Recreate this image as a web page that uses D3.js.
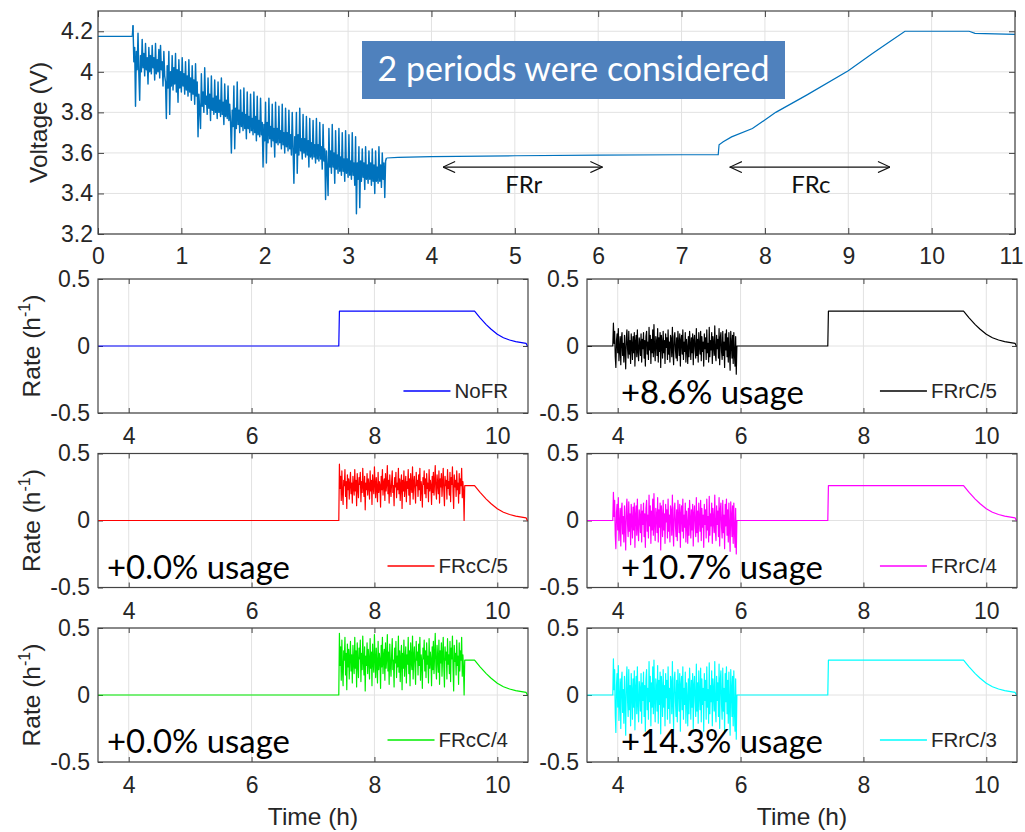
<!DOCTYPE html>
<html>
<head>
<meta charset="utf-8">
<script src="https://cdn.jsdelivr.net/npm/d3@7"></script>
<style>
  body { margin: 0; background: #fff; }
  svg { display: block; }
</style>
</head>
<body>
<svg id="chart" width="1025" height="832"></svg>
<script>
// ---------- Voltage record (top panel) ----------
const restT = [0, 0.41];
const restV = [4.175, 4.175];

// discharge under the usage profile, sampled every 0.01 h from 0.42 h
const dischargeStart = 0.42;
const dischargeStep = 0.01;
const dischargeV = [
  4.23, 4.05, 4.12, 3.83, 4.10, 4.01, 4.19, 3.99, 3.86, 4.08,
  4.00, 4.16, 4.02, 4.09, 3.98, 4.14, 4.01, 4.07, 3.94, 4.12,
  4.00, 4.08, 3.99, 4.13, 4.02, 4.07, 3.96, 4.14, 3.99, 4.06,
  4.00, 4.11, 3.97, 4.13, 4.01, 4.05, 3.93, 4.10, 3.98,
  3.95, 3.77, 4.03, 3.92, 4.10, 3.79, 4.00, 3.93, 4.08, 3.91,
  4.02, 3.94, 4.09, 3.90, 4.01, 3.85, 4.06, 3.92, 4.00, 3.90,
  4.07, 3.93, 3.99, 3.89, 4.05, 3.91, 3.98, 3.88, 4.06, 3.90,
  3.97, 3.86, 4.03, 3.89, 3.96, 3.84, 4.04, 3.88, 3.95,
  3.68, 3.89, 3.81, 3.72, 3.99, 3.83, 3.90, 3.80, 4.02, 3.84,
  3.88, 3.79, 3.97, 3.82, 3.89, 3.76, 3.98, 3.81, 3.87, 3.79,
  3.96, 3.80, 3.88, 3.77, 3.95, 3.80, 3.86, 3.78, 3.97, 3.79,
  3.85, 3.74, 3.94, 3.78, 3.86, 3.77, 3.93, 3.76, 3.84, 3.75,
  3.60, 3.81, 3.73, 3.93, 3.62, 3.82, 3.72, 3.95, 3.74, 3.81,
  3.70, 3.91, 3.73, 3.80, 3.71, 3.92, 3.72, 3.79, 3.67, 3.90,
  3.72, 3.78, 3.70, 3.89, 3.71, 3.77, 3.69, 3.90, 3.70, 3.78,
  3.66, 3.88, 3.69, 3.76, 3.68, 3.87, 3.69, 3.75,
  3.53, 3.74, 3.66, 3.85, 3.55, 3.75, 3.65, 3.87, 3.67, 3.73,
  3.63, 3.84, 3.66, 3.72, 3.58, 3.85, 3.65, 3.72, 3.64, 3.83,
  3.65, 3.71, 3.62, 3.84, 3.64, 3.70, 3.60, 3.82, 3.63, 3.70,
  3.61, 3.81, 3.62, 3.69, 3.59, 3.80, 3.62,
  3.45, 3.68, 3.60, 3.80, 3.50, 3.69, 3.59, 3.82, 3.61, 3.67,
  3.57, 3.79, 3.60, 3.67, 3.58, 3.78, 3.59, 3.66, 3.53, 3.77,
  3.58, 3.65, 3.57, 3.76, 3.58, 3.64, 3.55, 3.77, 3.57, 3.64,
  3.56, 3.75, 3.57, 3.63, 3.52, 3.74, 3.56, 3.62,
  3.37, 3.61, 3.52, 3.39, 3.72, 3.53, 3.61, 3.50, 3.74, 3.53,
  3.60, 3.45, 3.71, 3.52, 3.59, 3.50, 3.72, 3.51, 3.58, 3.49,
  3.70, 3.51, 3.57, 3.46, 3.71, 3.50, 3.57, 3.48, 3.69, 3.49,
  3.56, 3.47, 3.70, 3.49, 3.55, 3.44, 3.68,
  3.30, 3.55, 3.47, 3.63, 3.33, 3.56, 3.46, 3.62, 3.48, 3.55,
  3.42, 3.63, 3.47, 3.54, 3.45, 3.61, 3.47, 3.55, 3.44, 3.62,
  3.46, 3.54, 3.40, 3.61, 3.46, 3.53, 3.45, 3.63, 3.46, 3.54,
  3.43, 3.60, 3.47, 3.55, 3.38, 3.56
];

// rest, frequency-regulation window and constant-current / constant-voltage charge
const tailT = [3.46, 3.6, 4.0, 5.0, 6.0, 7.0, 7.44, 7.45, 7.5, 7.6, 7.85, 8.13, 8.5, 9.0, 9.29, 9.5, 9.68, 10.45, 10.52, 11.0];
const tailV = [3.575, 3.578, 3.582, 3.586, 3.589, 3.591, 3.592, 3.64, 3.655, 3.679, 3.72, 3.80, 3.885, 4.005, 4.09, 4.15, 4.20, 4.20, 4.19, 4.185];

const timeTicksTop = [0, 1, 2, 3, 4, 5, 6, 7, 8, 9, 10, 11];
const voltageTicks = [3.2, 3.4, 3.6, 3.8, 4, 4.2];

// period annotations
const periodNames = ["FRr", "FRc"];
const periodFrom = [4.14, 7.58];
const periodTo = [6.05, 9.5];
const boxTitle = "2 periods were considered";

// ---------- Rate panels ----------
const chargeT = [3.5, 3.92, 7.42, 7.43, 9.47, 9.63, 9.72, 9.82, 9.9, 10.0, 10.1, 10.2, 10.3, 10.42, 10.47, 10.49, 10.5];
const chargeR = [0, 0, 0, 0.26, 0.26, 0.26, 0.21, 0.16, 0.125, 0.088, 0.062, 0.045, 0.033, 0.023, 0.019, 0, 0];

// regulation signals, sampled every 0.01 h
const rateStep = 0.01;
const frrStart = 3.93;
const frcStart = 7.43;

const frrC5 = [
  0.17, 0.02, 0.11, -0.08, -0.16, 0.04, 0.09, -0.05, 0.13, -0.11,
  -0.03, 0.07, -0.14, 0.05, 0.10, -0.07, 0.02, -0.12, 0.08, -0.04,
  -0.17, 0.06, 0.12, -0.02, -0.09, 0.11, -0.06, 0.04, -0.13, 0.09,
  0.01, -0.10, 0.07, -0.05, 0.10, -0.15, 0.03, 0.08, -0.08, 0.12,
  -0.04, -0.11, 0.06, 0.02, -0.07, 0.09, -0.12, 0.05, -0.02, 0.10,
  -0.09, 0.04, -0.15, 0.07, 0.11, -0.06, 0.03, -0.10, 0.14, -0.03,
  0.08, -0.13, 0.05, -0.05, 0.12, -0.08, 0.16, -0.02, -0.11, 0.07,
  0.03, -0.07, 0.13, -0.12, 0.06, -0.04, 0.10, -0.16, 0.08, 0.02,
  -0.09, 0.11, -0.05, 0.04, -0.13, 0.09, -0.01, 0.06, -0.10, 0.12,
  -0.06, 0.03, -0.12, 0.08, 0.05, -0.08, 0.14, -0.04, -0.14, 0.07,
  0.10, -0.03, -0.09, 0.06, -0.11, 0.11, 0.02, -0.07, 0.09, -0.15,
  0.04, 0.08, -0.06, 0.12, -0.10, 0.03, -0.04, 0.10, -0.12, 0.05,
  -0.02, -0.13, 0.07, -0.08, 0.11, 0.01, -0.10, 0.06, -0.05, 0.09,
  -0.14, 0.04, 0.08, -0.03, -0.09, 0.13, -0.07, 0.05, -0.12, 0.10,
  0.00, -0.06, 0.11, -0.11, 0.07, -0.04, 0.03, -0.15, 0.09, -0.02,
  0.06, -0.10, 0.12, -0.05, 0.02, -0.12, 0.14, -0.08, 0.04, -0.03,
  0.10, -0.13, 0.07, 0.01, -0.07, 0.15, -0.06, -0.11, 0.08, -0.02,
  0.05, -0.09, 0.13, -0.14, 0.06, 0.10, -0.04, -0.10, 0.11, -0.07,
  0.03, -0.16, 0.09, -0.03, 0.12, -0.08, 0.06, -0.12, 0.10, -0.05,
  -0.18, 0.11, 0.02, -0.09, 0.08, -0.13, 0.10, -0.06, -0.15, 0.07,
  -0.21, 0.00
];
const frrC4 = [
  0.21, 0.03, 0.15, -0.11, -0.21, 0.06, 0.12, -0.07, 0.17, -0.15,
  -0.04, 0.09, -0.19, 0.07, 0.13, -0.10, 0.03, -0.16, 0.11, -0.05,
  -0.22, 0.08, 0.16, -0.03, -0.12, 0.14, -0.08, 0.05, -0.18, 0.12,
  0.01, -0.13, 0.10, -0.07, 0.13, -0.20, 0.04, 0.11, -0.11, 0.16,
  -0.06, -0.15, 0.08, 0.03, -0.09, 0.12, -0.16, 0.07, -0.03, 0.13,
  -0.12, 0.05, -0.20, 0.09, 0.15, -0.08, 0.04, -0.13, 0.19, -0.04,
  0.11, -0.17, 0.07, -0.07, 0.16, -0.11, 0.20, -0.03, -0.15, 0.09,
  0.04, -0.09, 0.17, -0.16, 0.08, -0.05, 0.13, -0.22, 0.11, 0.03,
  -0.12, 0.15, -0.07, 0.05, -0.17, 0.12, -0.01, 0.08, -0.13, 0.16,
  -0.08, 0.04, -0.16, 0.11, 0.07, -0.11, 0.19, -0.05, -0.19, 0.09,
  0.13, -0.04, -0.12, 0.08, -0.15, 0.15, 0.03, -0.09, 0.12, -0.20,
  0.05, 0.11, -0.08, 0.16, -0.13, 0.04, -0.05, 0.13, -0.16, 0.07,
  -0.03, -0.17, 0.09, -0.11, 0.15, 0.01, -0.13, 0.08, -0.07, 0.12,
  -0.19, 0.05, 0.11, -0.04, -0.12, 0.17, -0.09, 0.07, -0.16, 0.13,
  0.00, -0.08, 0.15, -0.15, 0.09, -0.05, 0.04, -0.20, 0.12, -0.03,
  0.08, -0.13, 0.16, -0.07, 0.03, -0.16, 0.18, -0.11, 0.05, -0.04,
  0.13, -0.17, 0.09, 0.01, -0.09, 0.19, -0.08, -0.15, 0.11, -0.03,
  0.07, -0.12, 0.17, -0.19, 0.08, 0.13, -0.05, -0.13, 0.15, -0.09,
  0.04, -0.21, 0.12, -0.04, 0.16, -0.11, 0.08, -0.16, 0.13, -0.07,
  -0.23, 0.14, 0.03, -0.12, 0.11, -0.17, 0.13, -0.08, -0.20, 0.09,
  -0.25, 0.00
];
const frrC3 = [
  0.27, 0.04, 0.19, -0.14, -0.28, 0.07, 0.16, -0.09, 0.22, -0.19,
  -0.05, 0.12, -0.25, 0.09, 0.17, -0.13, 0.04, -0.21, 0.14, -0.07,
  -0.30, 0.10, 0.21, -0.04, -0.16, 0.19, -0.11, 0.07, -0.23, 0.16,
  0.02, -0.18, 0.12, -0.09, 0.18, -0.26, 0.05, 0.14, -0.14, 0.21,
  -0.07, -0.20, 0.10, 0.04, -0.12, 0.16, -0.21, 0.09, -0.04, 0.17,
  -0.16, 0.07, -0.27, 0.12, 0.19, -0.11, 0.05, -0.18, 0.25, -0.05,
  0.14, -0.23, 0.09, -0.09, 0.21, -0.14, 0.26, -0.04, -0.20, 0.12,
  0.05, -0.12, 0.22, -0.21, 0.11, -0.07, 0.17, -0.29, 0.14, 0.04,
  -0.16, 0.19, -0.09, 0.07, -0.23, 0.16, -0.02, 0.11, -0.18, 0.21,
  -0.10, 0.05, -0.21, 0.14, 0.09, -0.14, 0.25, -0.07, -0.25, 0.12,
  0.17, -0.05, -0.16, 0.11, -0.20, 0.19, 0.04, -0.12, 0.16, -0.27,
  0.07, 0.14, -0.11, 0.21, -0.18, 0.05, -0.07, 0.17, -0.21, 0.09,
  -0.04, -0.23, 0.12, -0.14, 0.20, 0.02, -0.18, 0.11, -0.09, 0.16,
  -0.25, 0.07, 0.14, -0.05, -0.16, 0.23, -0.12, 0.09, -0.21, 0.18,
  0.00, -0.11, 0.20, -0.20, 0.12, -0.07, 0.05, -0.27, 0.16, -0.04,
  0.11, -0.18, 0.21, -0.09, 0.04, -0.21, 0.24, -0.14, 0.07, -0.05,
  0.18, -0.23, 0.12, 0.02, -0.12, 0.25, -0.11, -0.20, 0.14, -0.04,
  0.09, -0.16, 0.23, -0.25, 0.11, 0.18, -0.07, -0.18, 0.20, -0.12,
  0.05, -0.28, 0.16, -0.05, 0.21, -0.14, 0.11, -0.21, 0.17, -0.09,
  -0.30, 0.19, 0.04, -0.16, 0.14, -0.23, 0.18, -0.11, -0.27, 0.12,
  -0.33, 0.00
];
const frcC5 = [
  0.42, 0.24, 0.33, 0.15, 0.37, 0.21, 0.12, 0.30, 0.26, 0.38,
  0.18, 0.29, 0.09, 0.34, 0.23, 0.31, 0.16, 0.27, 0.36, 0.20,
  0.28, 0.13, 0.33, 0.25, 0.19, 0.38, 0.22, 0.30, 0.11, 0.35,
  0.24, 0.17, 0.32, 0.27, 0.36, 0.14, 0.29, 0.21, 0.39, 0.25,
  0.18, 0.33, 0.08, 0.28, 0.23, 0.35, 0.19, 0.31, 0.26, 0.16,
  0.37, 0.22, 0.30, 0.12, 0.34, 0.25, 0.20, 0.40, 0.27, 0.17,
  0.32, 0.24, 0.14, 0.36, 0.21, 0.29, 0.26, 0.10, 0.33, 0.23,
  0.38, 0.19, 0.28, 0.31, 0.15, 0.35, 0.22, 0.27, 0.41, 0.20,
  0.30, 0.13, 0.34, 0.24, 0.18, 0.29, 0.37, 0.21, 0.26, 0.11,
  0.32, 0.25, 0.36, 0.17, 0.28, 0.23, 0.39, 0.20, 0.31, 0.15,
  0.27, 0.34, 0.09, 0.30, 0.22, 0.37, 0.18, 0.26, 0.33, 0.14,
  0.29, 0.24, 0.38, 0.19, 0.31, 0.12, 0.35, 0.25, 0.21, 0.40,
  0.16, 0.28, 0.33, 0.22, 0.13, 0.36, 0.26, 0.30, 0.18, 0.34,
  0.23, 0.39, 0.15, 0.29, 0.25, 0.10, 0.32, 0.27, 0.37, 0.20,
  0.31, 0.17, 0.35, 0.24, 0.28, 0.14, 0.38, 0.22, 0.30, 0.26,
  0.12, 0.33, 0.21, 0.36, 0.19, 0.29, 0.41, 0.23, 0.16, 0.34,
  0.27, 0.20, 0.37, 0.13, 0.31, 0.25, 0.35, 0.18, 0.28, 0.39,
  0.22, 0.11, 0.33, 0.26, 0.30, 0.16, 0.38, 0.24, 0.29, 0.19,
  0.36, 0.14, 0.32, 0.27, 0.40, 0.21, 0.09, 0.34, 0.25, 0.30,
  0.18, 0.37, 0.23, 0.28, 0.13, 0.35, 0.20, 0.31, 0.26, 0.39,
  0.17, 0.29, 0.22, 0.00
];
const frcC4 = [
  0.46, 0.22, 0.36, 0.11, 0.41, 0.19, 0.07, 0.33, 0.26, 0.43,
  0.15, 0.31, 0.04, 0.38, 0.21, 0.34, 0.12, 0.28, 0.40, 0.18,
  0.30, 0.09, 0.37, 0.24, 0.16, 0.43, 0.20, 0.33, 0.06, 0.39,
  0.23, 0.13, 0.35, 0.27, 0.41, 0.10, 0.31, 0.19, 0.44, 0.25,
  0.15, 0.36, 0.03, 0.29, 0.22, 0.39, 0.16, 0.34, 0.26, 0.12,
  0.42, 0.20, 0.32, 0.07, 0.38, 0.24, 0.17, 0.45, 0.27, 0.13,
  0.35, 0.23, 0.09, 0.40, 0.19, 0.31, 0.26, 0.05, 0.37, 0.21,
  0.43, 0.16, 0.29, 0.34, 0.11, 0.39, 0.20, 0.27, 0.45, 0.18,
  0.32, 0.08, 0.38, 0.23, 0.14, 0.30, 0.42, 0.19, 0.26, 0.06,
  0.35, 0.24, 0.40, 0.13, 0.29, 0.21, 0.44, 0.17, 0.33, 0.10,
  0.28, 0.37, 0.04, 0.31, 0.20, 0.41, 0.14, 0.26, 0.36, 0.09,
  0.30, 0.23, 0.43, 0.16, 0.33, 0.07, 0.39, 0.25, 0.19, 0.44,
  0.12, 0.29, 0.36, 0.21, 0.08, 0.40, 0.26, 0.32, 0.15, 0.38,
  0.22, 0.43, 0.11, 0.30, 0.25, 0.05, 0.35, 0.27, 0.41, 0.18,
  0.33, 0.13, 0.39, 0.23, 0.29, 0.09, 0.42, 0.20, 0.32, 0.26,
  0.07, 0.36, 0.19, 0.40, 0.16, 0.30, 0.46, 0.22, 0.12, 0.37,
  0.27, 0.17, 0.41, 0.08, 0.33, 0.24, 0.39, 0.14, 0.29, 0.43,
  0.21, 0.06, 0.36, 0.26, 0.32, 0.12, 0.42, 0.23, 0.30, 0.16,
  0.40, 0.10, 0.35, 0.27, 0.44, 0.19, 0.03, 0.37, 0.25, 0.31,
  0.15, 0.41, 0.22, 0.29, 0.08, 0.39, 0.18, 0.33, 0.26, 0.43,
  0.14, 0.30, 0.20, 0.00
];

const seriesNames = ["NoFR", "FRrC/5", "FRcC/5", "FRrC/4", "FRcC/4", "FRrC/3"];
const seriesColors = ["#0000ff", "#000000", "#ff0000", "#ff00ff", "#00ee00", "#00ffff"];
const seriesNoiseStart = [null, frrStart, frcStart, frrStart, frcStart, frrStart];
const seriesNoise = [null, frrC5, frcC5, frrC4, frcC4, frrC3];
const usageLabels = [null, "+8.6% usage", "+0.0% usage", "+10.7% usage", "+0.0% usage", "+14.3% usage"];

const timeTicksRate = [4, 6, 8, 10];
const rateTicks = [-0.5, 0, 0.5];

// ---------- layout ----------
const svg = d3.select("#chart");
const tickFont = "'Liberation Sans', Arial, Helvetica, sans-serif";
const noteFont = "Lato, 'Open Sans', sans-serif";
const inkText = "#262626";
const gridColor = "#e2e2e2";
const boxColor = "#444";

const colX = [[98, 528], [587, 1017]];
const rowY = [279, 453.5, 628];
const rowH = 134;

function box(g, x0, x1, y0, y1) {
  g.append("rect").attr("x", x0).attr("y", y0)
    .attr("width", x1 - x0).attr("height", y1 - y0)
    .attr("fill", "none").attr("stroke", boxColor).attr("stroke-width", 1.2);
}

function styleAxis(sel, fontSize) {
  sel.select(".domain").remove();
  sel.selectAll(".tick line").attr("stroke", boxColor).attr("stroke-width", 1);
  sel.selectAll(".tick text").attr("fill", inkText)
    .attr("font-family", tickFont).attr("font-size", fontSize);
}

function frame(g, x, y, xTicks, yTicks, tickLen, padX, padY, fontSize) {
  const [x0, x1] = x.range();
  const [y1, y0] = y.range();
  g.append("g").selectAll("line").data(xTicks).join("line")
    .attr("x1", d => x(d)).attr("x2", d => x(d)).attr("y1", y0).attr("y2", y1)
    .attr("stroke", gridColor).attr("stroke-width", 1);
  g.append("g").selectAll("line").data(yTicks).join("line")
    .attr("x1", x0).attr("x2", x1).attr("y1", d => y(d)).attr("y2", d => y(d))
    .attr("stroke", gridColor).attr("stroke-width", 1);
  const fmt = d => String(d);
  const bottom = g.append("g").attr("transform", `translate(0,${y1})`)
    .call(d3.axisBottom(x).tickValues(xTicks).tickFormat(fmt).tickSizeInner(-tickLen).tickSizeOuter(0).tickPadding(padX))
    .call(s => styleAxis(s, fontSize));
  g.append("g").attr("transform", `translate(0,${y0})`)
    .call(d3.axisTop(x).tickValues(xTicks).tickFormat("").tickSizeInner(-tickLen).tickSizeOuter(0))
    .call(s => styleAxis(s, fontSize));
  g.append("g").attr("transform", `translate(${x0},0)`)
    .call(d3.axisLeft(y).tickValues(yTicks).tickFormat(fmt).tickSizeInner(-tickLen).tickSizeOuter(0).tickPadding(padY))
    .call(s => styleAxis(s, fontSize));
  g.append("g").attr("transform", `translate(${x1},0)`)
    .call(d3.axisRight(y).tickValues(yTicks).tickFormat("").tickSizeInner(-tickLen).tickSizeOuter(0))
    .call(s => styleAxis(s, fontSize));
  return bottom;
}

// ---------- top panel: voltage ----------
const xV = d3.scaleLinear().domain([0, 11]).range([98, 1015]);
const yV = d3.scaleLinear().domain([3.2, 4.3]).range([234, 11]);
const gTop = svg.append("g");
const topBottomAxis = frame(gTop, xV, yV, timeTicksTop, voltageTicks, 6, 14, 5, 23);
// keep the last hour label inside the page edge
topBottomAxis.selectAll(".tick text").filter(d => d === 11).attr("dx", -4);

const restPts = restT.map((t, i) => [t, restV[i]]);
const dischargePts = dischargeV.map((v, i) => [dischargeStart + i * dischargeStep, v]);
const tailPts = tailT.map((t, i) => [t, tailV[i]]);
const lineV = d3.line().x(d => xV(d[0])).y(d => yV(d[1]));

gTop.append("path").datum(restPts.concat([dischargePts[0]]))
  .attr("fill", "none").attr("stroke", "#0072bd").attr("stroke-width", 1.2)
  .attr("d", lineV);
gTop.append("path").datum(dischargePts.concat([tailPts[0]]))
  .attr("fill", "none").attr("stroke", "#0072bd").attr("stroke-width", 1.45)
  .attr("stroke-linejoin", "round").attr("d", lineV);
gTop.append("path").datum(tailPts)
  .attr("fill", "none").attr("stroke", "#0072bd").attr("stroke-width", 1.2)
  .attr("d", lineV);

box(gTop, 98, 1015, 11, 234);

gTop.append("text")
  .attr("transform", `translate(47,122.5) rotate(-90)`)
  .attr("text-anchor", "middle")
  .attr("font-family", tickFont).attr("font-size", 24.5).attr("fill", inkText)
  .text("Voltage (V)");

// period arrows
const defs = svg.append("defs");
defs.append("marker").attr("id", "chevron")
  .attr("viewBox", "0 0 13 12").attr("refX", 12.5).attr("refY", 6)
  .attr("markerWidth", 13).attr("markerHeight", 12)
  .attr("markerUnits", "userSpaceOnUse").attr("orient", "auto-start-reverse")
  .append("path").attr("d", "M0.5,0.5 L12.5,6 L0.5,11.5")
  .attr("fill", "none").attr("stroke", "#111").attr("stroke-width", 1.1);

const arrowLevel = 3.53;
const periodLabelLevel = 3.402;
periodNames.forEach((name, i) => {
  gTop.append("line")
    .attr("x1", xV(periodFrom[i])).attr("x2", xV(periodTo[i]))
    .attr("y1", yV(arrowLevel)).attr("y2", yV(arrowLevel))
    .attr("stroke", "#111").attr("stroke-width", 1.1)
    .attr("marker-start", "url(#chevron)").attr("marker-end", "url(#chevron)");
  gTop.append("text")
    .attr("x", xV((periodFrom[i] + periodTo[i]) / 2) + 1)
    .attr("y", yV(periodLabelLevel))
    .attr("text-anchor", "middle")
    .attr("font-family", noteFont).attr("font-size", 24).attr("fill", "#111")
    .text(name);
});

// title box
gTop.append("rect").attr("x", 362).attr("y", 41).attr("width", 423).attr("height", 58)
  .attr("fill", "#4f81bd");
const titleText = gTop.append("text")
  .attr("x", 573.5).attr("y", 81)
  .attr("text-anchor", "middle")
  .attr("font-family", noteFont).attr("font-size", 30).attr("fill", "#ffffff")
  .text(boxTitle);
{
  const w = titleText.node().getComputedTextLength();
  if (w > 0) titleText.attr("font-size", 30 * 392 / w);
}

// ---------- rate panels ----------
function buildSeries(start, noise) {
  if (!noise) return chargeT.map((t, i) => [t, chargeR[i]]);
  const end = start + (noise.length - 1) * rateStep;
  const pts = [];
  chargeT.forEach((t, i) => { if (t < start - 1e-9) pts.push([t, chargeR[i]]); });
  noise.forEach((v, i) => pts.push([start + i * rateStep, v]));
  chargeT.forEach((t, i) => { if (t > end + 1e-9) pts.push([t, chargeR[i]]); });
  return pts;
}

let usageSize = 28;
{
  const probe = svg.append("text").attr("font-family", noteFont).attr("font-size", 28).text("+10.7% usage");
  const w = probe.node().getComputedTextLength();
  if (w > 0) usageSize = 28 * 202 / w;
  probe.remove();
}

seriesNames.forEach((name, k) => {
  const col = k % 2, row = Math.floor(k / 2);
  const [x0, x1] = colX[col];
  const y0 = rowY[row], y1 = y0 + rowH;
  const x = d3.scaleLinear().domain([3.5, 10.5]).range([x0, x1]);
  const y = d3.scaleLinear().domain([-0.5, 0.5]).range([y1, y0]);
  const g = svg.append("g");
  frame(g, x, y, timeTicksRate, rateTicks, 5, 15, 8, 23);

  g.append("path").datum(buildSeries(seriesNoiseStart[k], seriesNoise[k]))
    .attr("fill", "none").attr("stroke", seriesColors[k]).attr("stroke-width", 1.2)
    .attr("stroke-linejoin", "round")
    .attr("d", d3.line().x(d => x(d[0])).y(d => y(d[1])));

  box(g, x0, x1, y0, y1);

  // legend (lower right)
  const legY = Math.round(y1 - 22);
  const lt = g.append("text")
    .attr("x", x1 - 20).attr("y", legY).attr("dy", "0.35em")
    .attr("text-anchor", "end")
    .attr("font-family", tickFont).attr("font-size", 20.5).attr("fill", inkText)
    .text(name);
  const tw = lt.node().getComputedTextLength();
  const tx = x1 - 20 - tw;
  g.append("line").attr("x1", tx - 51).attr("x2", tx - 4)
    .attr("y1", legY).attr("y2", legY)
    .attr("stroke", seriesColors[k]).attr("stroke-width", 1.5);

  if (usageLabels[k]) {
    g.append("text")
      .attr("x", col === 0 ? x0 + 9 : x0 + 34)
      .attr("y", y1 - 9)
      .attr("font-family", noteFont).attr("font-size", usageSize).attr("fill", "#000")
      .text(usageLabels[k]);
  }

  if (col === 0) {
    const lab = g.append("text")
      .attr("transform", `translate(40,${y0 + rowH / 2}) rotate(-90)`)
      .attr("text-anchor", "middle")
      .attr("font-family", tickFont).attr("font-size", 24.5).attr("fill", inkText);
    lab.append("tspan").text("Rate (h");
    lab.append("tspan").attr("font-size", 16).attr("dy", -10).text("-1");
    lab.append("tspan").attr("dy", 10).text(")");
  }
  if (row === 2) {
    g.append("text")
      .attr("x", (x0 + x1) / 2).attr("y", 825)
      .attr("text-anchor", "middle")
      .attr("font-family", tickFont).attr("font-size", 24.5).attr("fill", inkText)
      .text("Time (h)");
  }
});
</script>
</body>
</html>
